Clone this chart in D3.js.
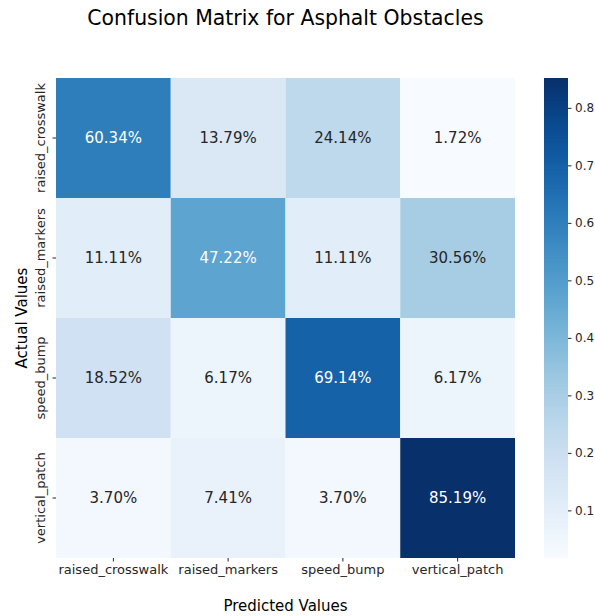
<!DOCTYPE html>
<html>
<head>
<meta charset="utf-8">
<script src="https://cdn.jsdelivr.net/npm/d3@7"></script>
<style>
  body { margin: 0; background: #fff; }
  text { font-family: "DejaVu Sans", sans-serif; }
</style>
</head>
<body>
<div id="chart"></div>
<script>
var svg_width = 595;
var svg_height = 616;

// confusion matrix, rows = actual, cols = predicted (fractions of row)
var classes = ["raised_crosswalk", "raised_markers", "speed_bump", "vertical_patch"];
var row_crosswalk = [0.6034, 0.1379, 0.2414, 0.0172];
var row_markers = [0.1111, 0.4722, 0.1111, 0.3056];
var row_bump = [0.1852, 0.0617, 0.6914, 0.0617];
var row_patch = [0.0370, 0.0741, 0.0370, 0.8519];
var rows = [row_crosswalk, row_markers, row_bump, row_patch];
var cbar_ticks = [0.1, 0.2, 0.3, 0.4, 0.5, 0.6, 0.7, 0.8];

var heat = ({left: 56, right: 515, top: 78, bottom: 558});
var cbar = ({left: 544, width: 24});

var cells = [];
rows.forEach((r, i) => r.forEach((v, j) => cells.push({actual: classes[i], pred: classes[j], value: v})));

var vmin = d3.min(cells, d => d.value);
var vmax = d3.max(cells, d => d.value);

var x = d3.scaleBand().domain(classes).range([heat.left, heat.right]);
var y = d3.scaleBand().domain(classes).range([heat.top, heat.bottom]);
var color = d3.scaleSequential(d3.interpolateBlues).domain([vmin, vmax]);

const svg = d3.select("#chart")
    .append("svg")
    .attr("width", svg_width)
    .attr("height", svg_height);

svg.append("g")
    .selectAll("rect")
    .data(cells)
    .join("rect")
      .attr("x", d => x(d.pred))
      .attr("y", d => y(d.actual))
      .attr("width", x.bandwidth())
      .attr("height", y.bandwidth())
      .attr("fill", d => color(d.value));

// text color like seaborn: light text on dark cells
function lum(c) {
    var rgb = d3.rgb(c);
    var f = v => { v = v / 255; return v <= 0.03928 ? v / 12.92 : Math.pow((v + 0.055) / 1.055, 2.4); };
    return 0.2126 * f(rgb.r) + 0.7152 * f(rgb.g) + 0.0722 * f(rgb.b);
}

svg.append("g")
    .selectAll("text")
    .data(cells)
    .join("text")
      .attr("x", d => x(d.pred) + x.bandwidth() / 2)
      .attr("y", d => y(d.actual) + y.bandwidth() / 2)
      .attr("dy", "0.36em")
      .attr("text-anchor", "middle")
      .attr("font-size", "15px")
      .attr("fill", d => lum(color(d.value)) > 0.408 ? "#262626" : "#ffffff")
      .text(d => (d.value * 100).toFixed(2) + "%");

var xAxis = g => g
    .attr("transform", `translate(0,${heat.bottom})`)
    .call(d3.axisBottom(x).tickSize(3.5).tickPadding(3.5))
    .call(g => g.select(".domain").remove())
    .call(g => g.selectAll("text").attr("font-size", "13px").attr("fill", "#262626").style("font-family", "DejaVu Sans"))
    .call(g => g.selectAll("line").attr("stroke", "#262626"));

var yAxis = g => g
    .attr("transform", `translate(${heat.left},0)`)
    .call(d3.axisLeft(y).tickSize(3.5).tickPadding(3.5))
    .call(g => g.select(".domain").remove())
    .call(g => g.selectAll("line").attr("stroke", "#262626"))
    .call(g => g.selectAll("text")
        .attr("font-size", "13px")
        .attr("fill", "#262626")
        .style("font-family", "DejaVu Sans")
        .attr("text-anchor", "middle")
        .attr("x", null).attr("dy", null)
        .attr("transform", "translate(-11,0) rotate(-90)"));

svg.append("g").call(xAxis);
svg.append("g").call(yAxis);

// colorbar
var cy = d3.scaleLinear().domain([vmin, vmax]).range([heat.bottom, heat.top]);
var defs = svg.append("defs");
var grad = defs.append("linearGradient")
    .attr("id", "cbar-grad")
    .attr("x1", 0).attr("y1", 1).attr("x2", 0).attr("y2", 0);
grad.selectAll("stop")
    .data(d3.range(0, 1.0001, 0.05))
    .join("stop")
      .attr("offset", t => t)
      .attr("stop-color", t => color(vmin + t * (vmax - vmin)));

svg.append("rect")
    .attr("x", cbar.left)
    .attr("y", heat.top)
    .attr("width", cbar.width)
    .attr("height", heat.bottom - heat.top)
    .attr("fill", "url(#cbar-grad)");

svg.append("g")
    .attr("transform", `translate(${cbar.left + cbar.width},0)`)
    .call(d3.axisRight(cy).tickValues(cbar_ticks).tickFormat(d3.format(".1f")).tickSize(3.5).tickPadding(3.5))
    .call(g => g.select(".domain").remove())
    .call(g => g.selectAll("line").attr("stroke", "#262626"))
    .call(g => g.selectAll("text").attr("font-size", "12px").attr("fill", "#262626").style("font-family", "DejaVu Sans"));

// titles
svg.append("text")
    .attr("x", 285.5)
    .attr("y", 25)
    .attr("text-anchor", "middle")
    .attr("font-size", "20.4px")
    .attr("fill", "#000")
    .text("Confusion Matrix for Asphalt Obstacles");

svg.append("text")
    .attr("x", (heat.left + heat.right) / 2)
    .attr("y", 611)
    .attr("text-anchor", "middle")
    .attr("font-size", "15px")
    .attr("fill", "#000")
    .text("Predicted Values");

svg.append("text")
    .attr("transform", `translate(27,${(heat.top + heat.bottom) / 2}) rotate(-90)`)
    .attr("text-anchor", "middle")
    .attr("font-size", "15px")
    .attr("fill", "#000")
    .text("Actual Values");
</script>
</body>
</html>
